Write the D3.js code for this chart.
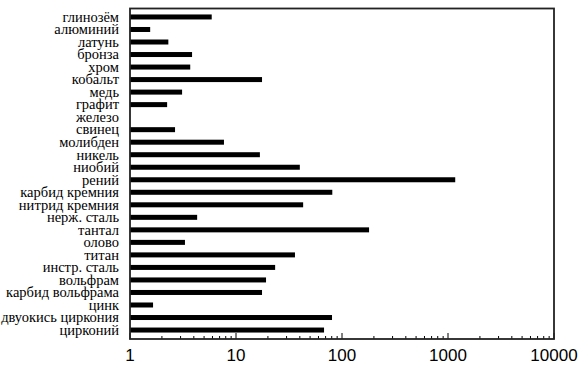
<!DOCTYPE html>
<html>
<head>
  <meta charset="utf-8">
  <title>Bar chart</title>
  <style>
    body { margin: 0; background: #fff; }
    svg { display: block; }
  </style>
  <script src="https://d3js.org/d3.v7.min.js"></script>
</head>
<body>
<div id="chart"></div>
<script>
  // data, top to bottom
  const materials = ["глинозём", "алюминий", "латунь", "бронза", "хром", "кобальт", "медь",
    "графит", "железо", "свинец", "молибден", "никель", "ниобий", "рений", "карбид кремния",
    "нитрид кремния", "нерж. сталь", "тантал", "олово", "титан", "инстр. сталь", "вольфрам",
    "карбид вольфрама", "цинк", "двуокись циркония", "цирконий"];
  const values = [5.9, 1.55, 2.3, 3.85, 3.7, 17.6, 3.1,
    2.24, 1, 2.66, 7.7, 16.8, 40, 1170, 81,
    43, 4.3, 180, 3.3, 36, 23.4, 19.2,
    17.6, 1.65, 80.5, 67.7];
  const tickValues = [1, 10, 100, 1000, 10000];

  const width = 582, height = 383;
  const plotLeft = 130, plotRight = 554, plotTop = 8.5, plotBottom = 339;

  const svg = d3.select("#chart").append("svg")
    .attr("width", width)
    .attr("height", height);

  const x = d3.scaleLog().domain([1, 10000]).range([plotLeft, plotRight]);
  const y = d3.scaleBand().domain(materials).range([10.7, 336.3]);

  // bars
  svg.append("g").selectAll("rect")
    .data(materials)
    .join("rect")
    .attr("x", plotLeft)
    .attr("y", (d) => y(d) + y.bandwidth() / 2 - 2.5)
    .attr("width", (d, i) => x(values[i]) - plotLeft)
    .attr("height", 5)
    .attr("fill", "#000");

  // category labels
  svg.append("g").selectAll("text")
    .data(materials)
    .join("text")
    .attr("x", 119)
    .attr("y", (d) => y(d) + y.bandwidth() / 2)
    .attr("dy", "0.33em")
    .attr("text-anchor", "end")
    .attr("font-family", "'Liberation Serif', 'Times New Roman', serif")
    .attr("font-size", 14.5)
    .attr("fill", "#000")
    .text((d) => d);

  // bottom axis, ticks pointing inward
  const minor = [];
  for (let p = 1; p < 10000; p *= 10) {
    for (let k = 2; k < 10; k++) minor.push(p * k);
  }
  svg.append("g").selectAll("line")
    .data(minor)
    .join("line")
    .attr("x1", (d) => x(d)).attr("x2", (d) => x(d))
    .attr("y1", plotBottom).attr("y2", plotBottom - 3)
    .attr("stroke", "#000").attr("stroke-width", 1);
  svg.append("g").selectAll("line")
    .data(tickValues)
    .join("line")
    .attr("x1", (d) => x(d)).attr("x2", (d) => x(d))
    .attr("y1", plotBottom).attr("y2", plotBottom - 6)
    .attr("stroke", "#000").attr("stroke-width", 1);

  svg.append("g").selectAll("text")
    .data(tickValues)
    .join("text")
    .attr("x", (d) => x(d))
    .attr("y", 361)
    .attr("text-anchor", "middle")
    .attr("font-family", "'Liberation Sans', Arial, sans-serif")
    .attr("font-size", 17)
    .attr("fill", "#000")
    .text((d) => d);

  // frame
  svg.append("rect")
    .attr("x", plotLeft)
    .attr("y", plotTop)
    .attr("width", plotRight - plotLeft)
    .attr("height", plotBottom - plotTop)
    .attr("fill", "none")
    .attr("stroke", "#222")
    .attr("stroke-width", 1.8);
</script>
</body>
</html>
